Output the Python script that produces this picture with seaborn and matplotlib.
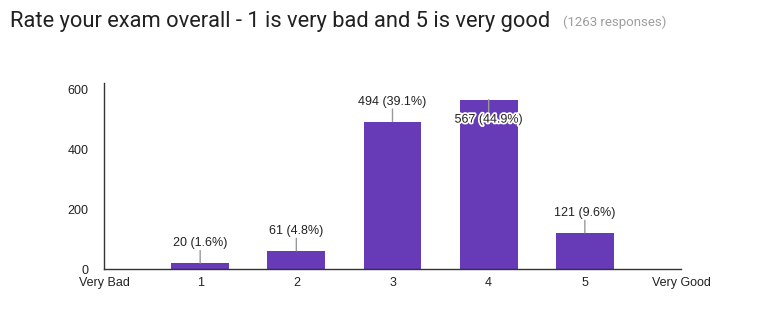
import matplotlib
matplotlib.use("Agg")
import matplotlib.pyplot as plt
import matplotlib.patheffects as pe
import seaborn as sns
import pandas as pd

categories = ["1", "2", "3", "4", "5"]
counts = [20, 61, 494, 567, 121]
axis_labels = ["Very Bad", "1", "2", "3", "4", "5", "Very Good"]
total = 1263
title = "Rate your exam overall - 1 is very bad and 5 is very good"
subtitle = "(1263 responses)"

sns.set_theme(style="white")
plt.rcParams['font.family'] = ['Liberation Sans', 'DejaVu Sans']

df = pd.DataFrame({"rating": categories, "count": counts})

fig = plt.figure(figsize=(7.68, 3.23), dpi=100)
ax = fig.add_axes([104/768, 1-269/323, (681-104)/768, (269-83)/323])

sns.barplot(data=df, x="rating", y="count", order=axis_labels, color="#673ab7",
            saturation=1, width=0.6, ax=ax, edgecolor="none")

ax.set_xlim(0, 6)
ax.set_ylim(0, 623)
ax.set_yticks([0, 200, 400, 600])
ax.set_xlabel("")
ax.set_ylabel("")
ax.tick_params(axis="both", length=0, labelsize=9, colors="#222222")
ax.tick_params(axis="y", pad=11)
ax.tick_params(axis="x", pad=5.5)
for side in ["top", "right"]:
    ax.spines[side].set_visible(False)
for side in ["left", "bottom"]:
    ax.spines[side].set_color("#333333")
    ax.spines[side].set_linewidth(1)

for i, c in enumerate(counts):
    xpos = i + 1
    label = f"{c} ({c / total * 100:.1f}%)"
    if c > 540:
        ax.annotate("", xy=(xpos, c), xytext=(0, -9), textcoords="offset points",
                    arrowprops=dict(arrowstyle="-", color="#999999", lw=1, shrinkA=0, shrinkB=0))
        t = ax.annotate(label, xy=(xpos, c), xytext=(0, -10), textcoords="offset points",
                        ha="center", va="top", fontsize=9, color="#222222")
        t.set_path_effects([pe.withStroke(linewidth=2.5, foreground="white")])
    else:
        ax.annotate("", xy=(xpos, c), xytext=(0, 9), textcoords="offset points",
                    arrowprops=dict(arrowstyle="-", color="#999999", lw=1, shrinkA=0, shrinkB=0))
        ax.annotate(label, xy=(xpos, c), xytext=(0, 10), textcoords="offset points",
                    ha="center", va="bottom", fontsize=9, color="#222222")

fig.text(10/768, 1-22/323, title, fontsize=15.75, family=["Roboto", "DejaVu Sans"],
         color="#212121", va="center", ha="left")
fig.text(563/768, 1-22/323, subtitle, fontsize=9.5, family=["Roboto", "DejaVu Sans"],
         color="#9e9e9e", va="center", ha="left")

fig.savefig("out.png", dpi=100)
